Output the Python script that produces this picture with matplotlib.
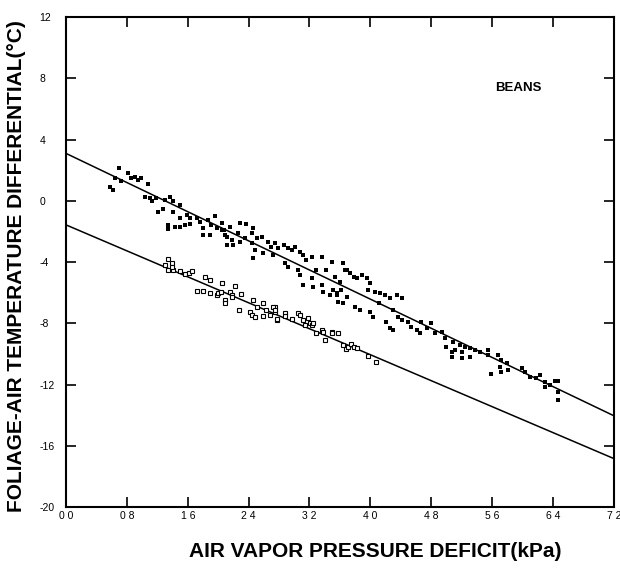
import numpy as np
import matplotlib
matplotlib.use("Agg")
import matplotlib.pyplot as plt

plt.rcParams['font.family'] = ['Liberation Sans', 'DejaVu Sans']

# ---- data ----
upper_x = [0.70, 0.64, 0.58, 0.62, 0.72, 0.82, 0.86, 0.91, 0.95, 0.98, 1.08, 1.04, 1.10, 1.13, 1.18,
           1.30, 1.37, 1.41, 1.50, 1.28, 1.21, 1.40, 1.50, 1.59, 1.63, 1.34, 1.34, 1.43, 1.50, 1.56,
           1.63, 1.72, 1.76, 1.87, 1.96, 1.91, 1.98, 2.05, 2.09, 1.80, 1.80, 1.89, 2.11,
           2.05, 2.07, 2.15, 2.29, 2.37, 2.46, 2.11, 2.18, 2.20, 2.29, 2.26, 2.35, 2.44, 2.44, 2.51,
           2.57, 2.48, 2.46, 2.59, 2.66, 2.70, 2.75, 2.79, 2.72, 2.86, 2.92, 2.97, 2.88, 2.92, 3.01,
           3.07, 3.12, 3.16, 3.05, 3.07, 3.23, 3.29, 3.23, 3.36, 3.42, 3.49, 3.53, 3.60, 3.67, 3.12,
           3.25, 3.36, 3.38, 3.47, 3.56, 3.62, 3.69,
           3.64, 3.69, 3.73, 3.78, 3.82, 3.89, 3.95, 4.00, 3.97, 4.06, 4.13, 4.19, 4.26, 4.35, 4.41,
           3.51, 3.56, 3.58, 3.64, 3.80, 3.86, 4.00, 4.04, 4.11, 4.30, 4.21, 4.26, 4.30, 4.37, 4.41,
           4.50, 4.54, 4.61, 4.67, 4.65, 4.75, 4.85, 4.80,
           4.94, 4.98, 5.00, 5.07, 5.09, 5.11, 5.07, 5.18, 5.20, 5.20, 5.24, 5.31, 5.31, 5.37, 5.44,
           5.55, 5.55, 5.68, 5.72, 5.70, 5.72, 5.59, 5.79, 5.81, 5.99, 6.03, 6.10, 6.18, 6.23, 6.29,
           6.29, 6.43, 6.47, 6.47, 6.47, 6.36]
upper_y = [2.14, 1.48, 0.92, 0.72, 1.31, 1.81, 1.52, 1.59, 1.37, 1.48, 1.09, 0.28, 0.18, -0.04, 0.18,
           0.07, 0.22, -0.04, -0.26, -0.52, -0.70, -0.70, -1.09, -0.92, -1.13, -1.57, -1.83, -1.68, -1.74, -1.57,
           -1.52, -1.13, -1.35, -1.24, -1.02, -1.57, -1.79, -1.90, -2.22, -1.79, -2.22, -2.22, -2.88,
           -1.46, -1.90, -1.68, -1.46, -1.50, -1.79, -2.33, -2.55, -2.88, -2.66, -2.11, -2.44, -2.11, -2.77, -2.44,
           -2.33, -3.20, -3.75, -3.42, -2.66, -2.99, -2.77, -3.09, -3.53, -2.88, -3.09, -3.20, -4.07, -4.29, -2.99,
           -3.31, -3.53, -3.86, -4.51, -4.84, -3.64, -4.51, -5.05, -3.64, -4.51, -3.97, -4.95, -5.27, -4.51, -5.49,
           -5.64, -5.49, -5.93, -6.14, -6.03, -5.82, -6.25,
           -4.03, -4.51, -4.73, -4.95, -5.05, -4.84, -5.05, -5.38, -5.82, -5.93, -6.03, -6.14, -6.36, -6.14, -6.36,
           -5.82, -6.14, -6.58, -6.69, -6.91, -7.12, -7.24, -7.57, -6.69, -7.12, -7.89, -8.32, -8.43, -7.57, -7.78,
           -7.89, -8.21, -8.43, -7.89, -8.65, -8.30, -8.60, -8.00,
           -8.54, -8.98, -9.52, -9.85, -9.19, -9.74, -10.18, -9.41, -9.85, -10.28, -9.52, -9.63, -10.18, -9.74, -9.85,
           -9.74, -10.07, -10.07, -10.39, -10.83, -11.16, -11.31, -10.61, -11.05, -10.94, -11.16, -11.49, -11.59, -11.37, -11.81,
           -12.14, -11.74, -11.74, -12.46, -13.00, -12.03]

lower_x = [1.34, 1.39, 1.30, 1.34, 1.41, 1.39, 1.50, 1.56, 1.61, 1.65, 1.83, 1.89, 1.72, 1.80, 1.89,
           1.98, 2.00, 2.04, 2.05, 2.09, 2.09, 2.15, 2.18, 2.18, 2.22, 2.30, 2.46, 2.51, 2.59, 2.28,
           2.42, 2.44, 2.48, 2.59, 2.63, 2.68, 2.75, 2.75, 2.77,
           2.72, 2.75, 2.77, 2.88, 2.88, 2.97, 3.05, 3.07, 3.12, 3.14, 3.18, 3.21, 3.23, 3.25, 3.29,
           3.36, 3.38, 3.40, 3.49, 3.49, 3.58, 3.64, 3.68, 3.71, 3.75, 3.78, 3.82, 3.97, 4.07]
lower_y = [-3.81, -4.07, -4.18, -4.51, -4.51, -4.29, -4.55, -4.77, -4.73, -4.55, -4.99, -5.16, -5.86, -5.86, -6.03,
           -6.14, -6.03, -5.93, -5.38, -6.47, -6.64, -5.93, -6.14, -6.30, -5.56, -6.08, -6.47, -6.91, -6.69, -7.12,
           -7.24, -7.45, -7.60, -7.52, -7.12, -7.45, -6.91, -7.24, -7.78,
           -6.91, -7.12, -7.73, -7.34, -7.52, -7.73, -7.34, -7.45, -7.78, -8.10, -7.67, -7.99, -8.10, -7.99, -8.60,
           -8.43, -8.54, -9.08, -8.54, -8.65, -8.65, -9.41, -9.69, -9.52, -9.35, -9.52, -9.63, -10.13, -10.50]

upper_fit = (3.1, -2.38)    # intercept, slope
lower_fit = (-1.57, -2.12)

x_ticks = [0.0, 0.8, 1.6, 2.4, 3.2, 4.0, 4.8, 5.6, 6.4, 7.2]
x_tick_labels = ["0 0", "0 8", "1 6", "2 4", "3 2", "4 0", "4 8", "5 6", "6 4", "7 2"]
y_ticks = [-20, -16, -12, -8, -4, 0, 4, 8, 12]
y_tick_labels = ["-20", "-16", "-12", "-8", "-4", "0", "4", "8", "12"]

# ---- figure ----
fig = plt.figure(figsize=(6.2, 5.72), dpi=100)
ax = fig.add_axes([0.1065, 0.1136, 0.8835, 0.8564])

xl = np.array([0.0, 7.2])
ax.plot(xl, upper_fit[0] + upper_fit[1] * xl, color='black', lw=1.1)
ax.plot(xl, lower_fit[0] + lower_fit[1] * xl, color='black', lw=1.1)

ax.plot(upper_x, upper_y, linestyle='none', marker='s', markersize=2.3,
        color='black', markeredgewidth=0)
ax.plot(lower_x, lower_y, linestyle='none', marker='s', markersize=3.4,
        markerfacecolor='white', markeredgecolor='black', markeredgewidth=0.8)

ax.set_xlim(0, 7.2)
ax.set_ylim(-20, 12)
ax.set_xticks(x_ticks)
ax.set_xticklabels(x_tick_labels, fontsize=7.5)
ax.set_yticks(y_ticks)
ax.set_yticklabels(y_tick_labels, fontsize=7.5)
ax.tick_params(direction='in', length=7, width=1.2, top=True, right=True)
ax.tick_params(axis='x', pad=3)
ax.tick_params(axis='y', pad=19)
for lab in ax.get_yticklabels():
    lab.set_horizontalalignment('left')
for s in ax.spines.values():
    s.set_linewidth(1.5)

ax.text(5.64, 7.4, "BEANS", fontsize=9.5, fontweight='bold', ha='left', va='center')

fig.text(0.605, 0.035, "AIR VAPOR PRESSURE DEFICIT(kPa)", fontsize=15,
         fontweight='bold', ha='center', va='center')
fig.text(0.027, 0.535, "FOLIAGE-AIR TEMPERATURE DIFFERENTIAL(°C)", fontsize=15,
         fontweight='bold', ha='center', va='center', rotation=90)

fig.savefig("out.png", dpi=100)
